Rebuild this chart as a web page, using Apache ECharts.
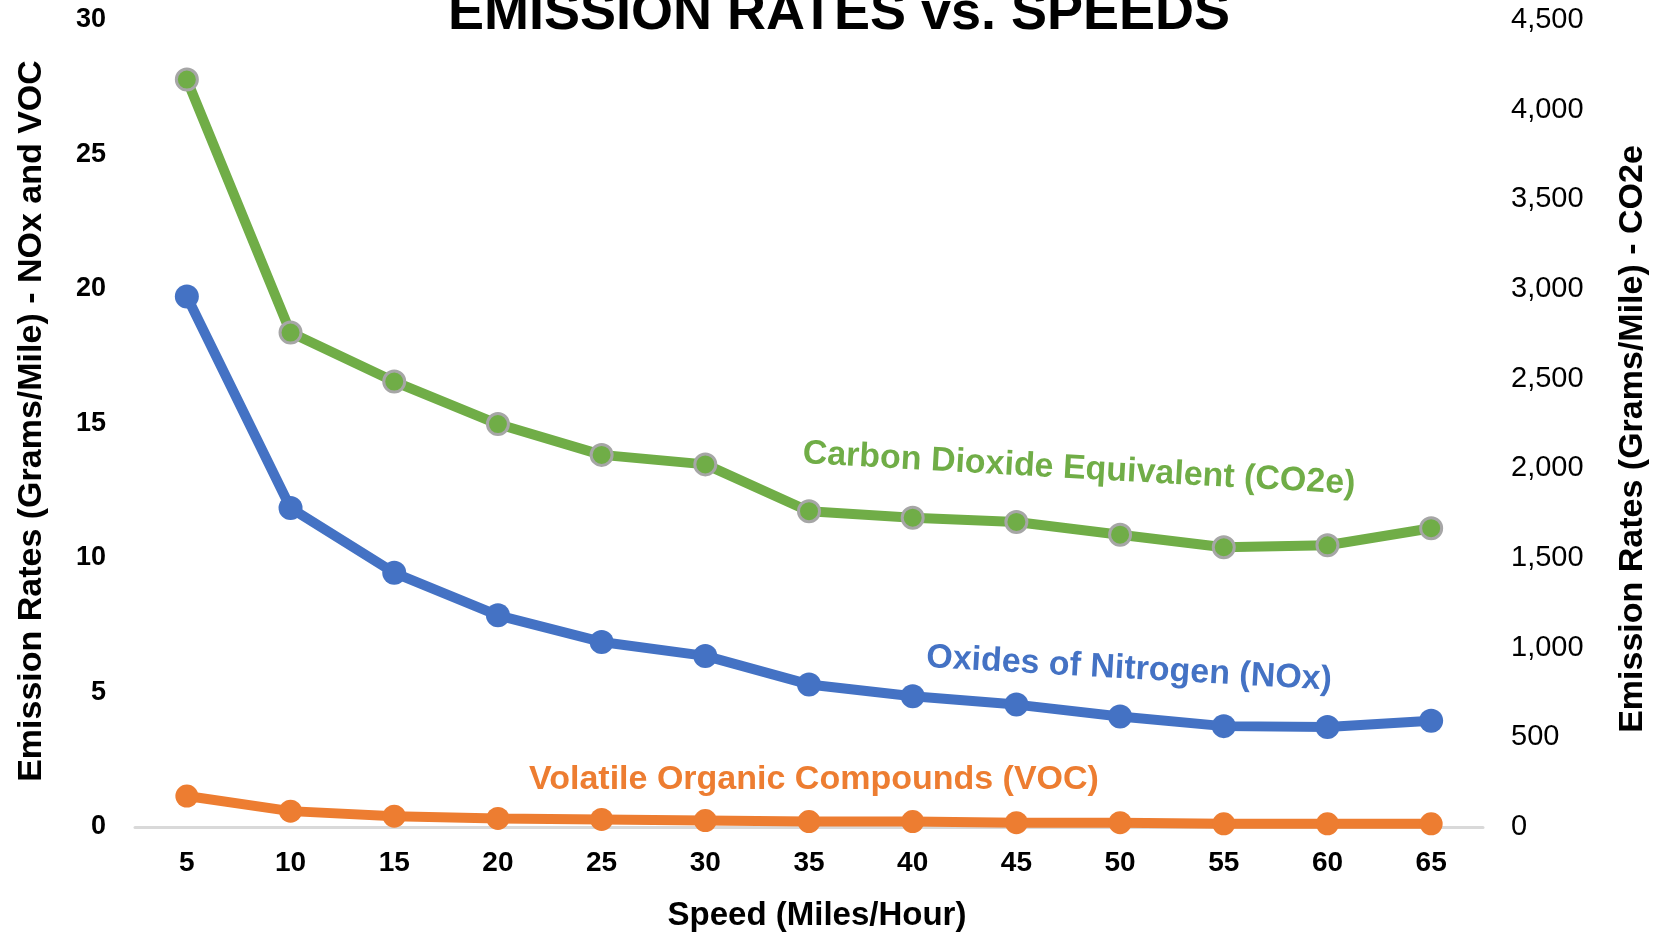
<!DOCTYPE html>
<html>
<head>
<meta charset="utf-8">
<script src="https://cdn.jsdelivr.net/npm/echarts@6/dist/echarts.min.js"></script>
<style>
html,body{margin:0;padding:0;background:#fff;}
#chart{width:1665px;height:938px;}
</style>
</head>
<body>
<div id="chart"></div>
<script>
var speeds = ['5','10','15','20','25','30','35','40','45','50','55','60','65'];
var co2e = [4168, 2757, 2484, 2247, 2075, 2022, 1761, 1725, 1701, 1630, 1560, 1571, 1666];
var nox = [19.72, 11.86, 9.45, 7.87, 6.88, 6.36, 5.30, 4.86, 4.55, 4.11, 3.75, 3.72, 3.95];
var voc = [1.15, 0.59, 0.40, 0.32, 0.28, 0.24, 0.20, 0.20, 0.16, 0.16, 0.12, 0.12, 0.12];
var leftTicks = {min: 0, max: 30, interval: 5};
var rightTicks = {min: 0, max: 4500, interval: 500};

var FONT = '"Liberation Sans", Arial, sans-serif';
var GREEN = '#70AD47', BLUE = '#4472C4', ORANGE = '#ED7D31';

var chart = echarts.init(document.getElementById('chart'), null, {renderer: 'canvas'});
var option = {
  backgroundColor: '#ffffff',
  animation: false,
  grid: {left: 135, right: 182, top: 20, bottom: 111},
  xAxis: {
    type: 'category',
    data: speeds,
    boundaryGap: true,
    axisLine: {show: true, lineStyle: {color: '#d9d9d9', width: 3}},
    axisTick: {show: false},
    axisLabel: {color: '#000', fontFamily: FONT, fontWeight: 'bold', fontSize: 28, margin: 22},
    splitLine: {show: false}
  },
  yAxis: [{
    type: 'value',
    min: leftTicks.min, max: leftTicks.max, interval: leftTicks.interval,
    axisLine: {show: false}, axisTick: {show: false}, splitLine: {show: false},
    axisLabel: {color: '#000', fontFamily: FONT, fontWeight: 'bold', fontSize: 27, margin: 29}
  }, {
    type: 'value',
    min: rightTicks.min, max: rightTicks.max, interval: rightTicks.interval,
    position: 'right',
    axisLine: {show: false}, axisTick: {show: false}, splitLine: {show: false},
    axisLabel: {color: '#000', fontFamily: FONT, fontSize: 29, margin: 28,
      formatter: function (v) { return v.toLocaleString('en-US'); }}
  }],
  series: [{
    name: 'CO2e', type: 'line', yAxisIndex: 1, data: co2e,
    symbol: 'circle', symbolSize: 21,
    lineStyle: {color: GREEN, width: 10},
    itemStyle: {color: GREEN, borderColor: '#a6a6a6', borderWidth: 3},
    z: 3
  }, {
    name: 'NOx', type: 'line', yAxisIndex: 0, data: nox,
    symbol: 'circle', symbolSize: 24,
    lineStyle: {color: BLUE, width: 10},
    itemStyle: {color: BLUE},
    z: 4
  }, {
    name: 'VOC', type: 'line', yAxisIndex: 0, data: voc,
    symbol: 'circle', symbolSize: 23,
    lineStyle: {color: ORANGE, width: 10},
    itemStyle: {color: ORANGE},
    z: 5
  }],
  graphic: [{
    type: 'text', x: 839, y: 14,
    style: {text: 'EMISSION RATES vs. SPEEDS', fill: '#000', font: 'bold 54px ' + FONT, textAlign: 'center', textVerticalAlign: 'middle'}
  }, {
    type: 'text', x: 32, y: 421, rotation: Math.PI / 2,
    style: {text: 'Emission Rates (Grams/Mile) - NOx and VOC', fill: '#000', font: 'bold 34px ' + FONT, textAlign: 'center', textVerticalAlign: 'middle'}
  }, {
    type: 'text', x: 1633, y: 439, rotation: Math.PI / 2,
    style: {text: 'Emission Rates (Grams/Mile) - CO2e', fill: '#000', font: 'bold 34px ' + FONT, textAlign: 'center', textVerticalAlign: 'middle'}
  }, {
    type: 'text', x: 817, y: 916,
    style: {text: 'Speed (Miles/Hour)', fill: '#000', font: 'bold 33px ' + FONT, textAlign: 'center', textVerticalAlign: 'middle'}
  }, {
    type: 'text', x: 1079, y: 469, rotation: -3.2 * Math.PI / 180,
    style: {text: 'Carbon Dioxide Equivalent (CO2e)', fill: GREEN, font: 'bold 34px ' + FONT, textAlign: 'center', textVerticalAlign: 'middle'}
  }, {
    type: 'text', x: 1129, y: 669, rotation: -3.2 * Math.PI / 180,
    style: {text: 'Oxides of Nitrogen (NOx)', fill: BLUE, font: 'bold 34px ' + FONT, textAlign: 'center', textVerticalAlign: 'middle'}
  }, {
    type: 'text', x: 814, y: 780,
    style: {text: 'Volatile Organic Compounds (VOC)', fill: ORANGE, font: 'bold 34px ' + FONT, textAlign: 'center', textVerticalAlign: 'middle'}
  }]
};
chart.setOption(option);
</script>
</body>
</html>
